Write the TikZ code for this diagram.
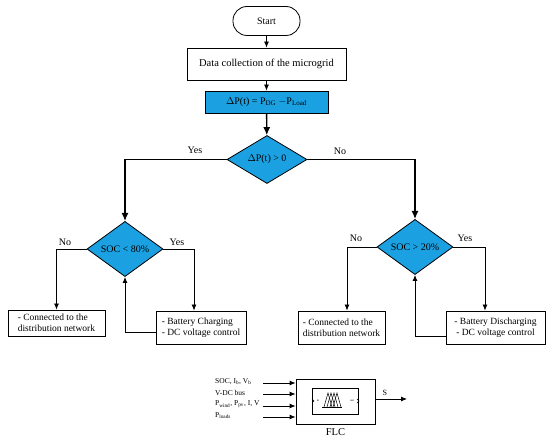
\documentclass[tikz,border=0pt]{standalone}
\usepackage{fontspec}
\setmainfont{Liberation Serif}
\usepackage{amsmath}
\usetikzlibrary{shapes.geometric,arrows.meta,positioning}
\definecolor{flowblue}{RGB}{27,161,226}

\begin{document}
\begin{tikzpicture}[x=1pt,y=-1pt,
    arr/.style={-{Latex[length=6pt,width=5pt]},line width=0.8pt},
    trunk/.style={-{Latex[length=8pt,width=7pt]},line width=1.3pt},
    procbox/.style={draw,line width=0.8pt,inner sep=2pt,font=\fontsize{9.5}{11}\selectfont},
    decision/.style={diamond,draw,line width=0.8pt,fill=flowblue,inner sep=0pt,font=\fontsize{10}{12}\selectfont},
    lbl/.style={font=\fontsize{10}{12}\selectfont}]
\useasboundingbox (0,0) rectangle (550,443);
    % top of the chart
    \node[draw,line width=0.8pt,rounded corners=14pt,minimum width=67pt,minimum height=29pt,lbl] (start) at (266.5,21) {Start};
    \node[procbox,minimum width=159pt,minimum height=32pt,font=\fontsize{10.5}{12}\selectfont] (data) at (266.5,64) {Data collection of the microgrid};
    \node[procbox,fill=flowblue,minimum width=123pt,minimum height=22pt,font=\fontsize{10}{12}\selectfont] (dp) at (266.5,102) {$\Delta$P(t) = P$_{\text{DG}}$ $-$P$_{\text{Load}}$};
    \node[decision,minimum width=80pt,minimum height=35pt] (d0) at (267,159.5) {$\Delta$P(t) > 0};
    \draw[arr] (start) -- (data);
    \draw[arr] (data) -- (dp);
    \draw[trunk] (dp) -- (d0);
    % second level decisions
    \node[decision,minimum width=76pt,minimum height=40pt] (dl) at (125,249) {SOC < 80\%};
    \node[decision,minimum width=76pt,minimum height=40pt] (dr) at (415,247) {SOC > 20\%};
    \draw[trunk] (d0.west) -| (dl.north);
    \draw[trunk] (d0.east) -| (dr.north);
    \node[lbl] (yes0) at (195,150) {Yes};
    \node[lbl] (no0) at (340,151) {No};
    % outcome boxes
    \node[procbox,minimum width=97pt,minimum height=26pt,align=left] (nl) at (56.5,323) {- Connected to the\\distribution network};
    \node[procbox,minimum width=90pt,minimum height=33pt,align=left] (bl) at (201,327.5) {- Battery Charging\\- DC voltage control};
    \node[procbox,minimum width=87pt,minimum height=33pt,align=left] (nr) at (341.5,327.5) {- Connected to the\\distribution network};
    \node[procbox,minimum width=99pt,minimum height=33pt,align=center] (br) at (495.5,327.5) {- Battery Discharging\\- DC voltage control};
    \draw[arr] (dl.west) -| (nl.north);
    \draw[arr] (dl.east) -| ([xshift=-7pt]bl.north);
    \draw[arr] (dr.west) -| ([xshift=5.5pt]nr.north);
    \draw[arr] (dr.east) -| ([xshift=-10.5pt]br.north);
    \draw[arr] ([yshift=-4.5pt]bl.west) -| (dl.south);
    \draw[arr] ([yshift=-8.5pt]br.west) -| (dr.south);
    \node[lbl] (nol) at (65,242) {No};
    \node[lbl] (yesl) at (177,242) {Yes};
    \node[lbl] (nor) at (356,238) {No};
    \node[lbl] (yesr) at (465,238) {Yes};
    % fuzzy logic controller
    \node[draw,line width=0.8pt,minimum width=79pt,minimum height=45pt] (flc) at (335.5,401.5) {};
    \node[draw,line width=0.8pt,minimum width=46pt,minimum height=26pt] (fis) at (335,401) {};
    \node[font=\fontsize{10.5}{12}\selectfont,below=1pt of flc] (flcname) {FLC};
    \draw[line width=0.4pt] (312,399) -- (314,401) -- (312,403);
    \draw[line width=0.4pt] (357,399) -- (359,401) -- (357,403);
    \node[font=\fontsize{3}{3}\selectfont,inner sep=0pt] (inport) at (318,401) {in};
    \node[font=\fontsize{3}{3}\selectfont,inner sep=0pt] (outport) at (352,401) {out};
    \draw[line width=0.5pt] (322,407) -- (342,407);
    \foreach \t in {324,327,330,333}
        \draw[line width=0.5pt] (\t,407) -- (\t+4,393) -- (\t+8,407);
    \foreach \y/\txt [count=\i] in {383/{SOC, I$_\text{b}$, V$_\text{b}$},394/{V-DC bus},406/{P$_\text{wind}$, P$_\text{pv}$, I, V},417/{P$_\text{loads}$}}
    {
        \coordinate (in\i) at (263,\y);
        \node[anchor=west,inner sep=0pt,font=\fontsize{7.5}{9}\selectfont] (inlbl\i) at (215,\y-1.5) {\txt};
        \draw[arr] (in\i) -- (in\i -| flc.west);
    }
    \coordinate (sout) at (407,399);
    \draw[arr] (flc.east |- sout) -- (sout) node[pos=0.3,above,font=\fontsize{8}{9}\selectfont] {S};
\end{tikzpicture}
\end{document}
